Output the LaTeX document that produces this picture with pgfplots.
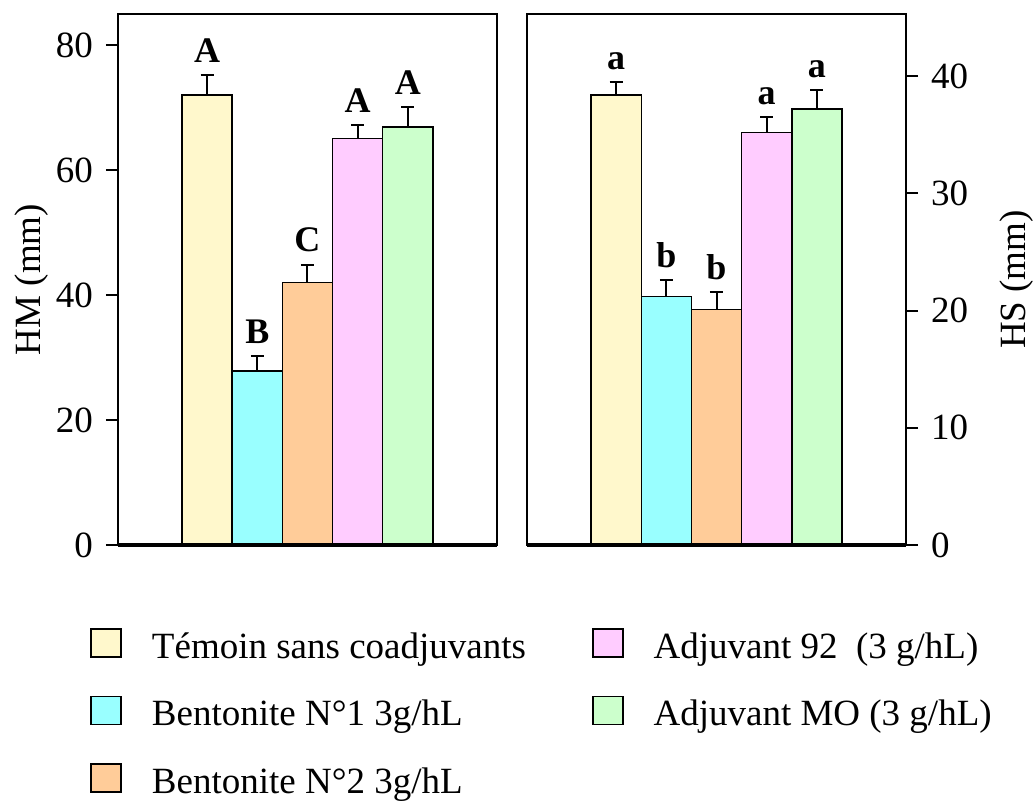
\documentclass[border=0pt]{standalone}
\usepackage{pgfplots}
\pgfplotsset{compat=1.18}
\usepackage{fontspec}
\setmainfont{Liberation Serif}
\definecolor{cTem}{HTML}{FFF8CC}
\definecolor{cBa}{HTML}{99FFFF}
\definecolor{cBb}{HTML}{FFCC99}
\definecolor{cAn}{HTML}{FFCCFF}
\definecolor{cMo}{HTML}{CCFFCC}
\pgfplotsset{
  panel/.style={
    scale only axis, width=189.5pt, height=265.5pt,
    xmin=-0.78, xmax=6.78, ymin=0, xtick=\empty,
    axis line style={line width=1pt},
    tick style={line width=1pt, black},
    major tick length=6pt, tick align=outside,
    /pgf/number format/assume math mode=true,
    ticklabel style={font=\fontsize{18.5}{22}\selectfont},
    label style={font=\fontsize{18.5}{22}\selectfont},
    clip=false,
  },
  barst/.style={ybar, bar width=1, bar shift=0pt, draw=black, line width=0.8pt, fill=#1},
  errst/.style={error bars/.cd, y dir=plus, y explicit,
    error bar style={line width=1pt, black},
    error mark options={rotate=90, mark size=3.3pt, line width=1pt, black}},
  letters/.style={only marks, mark=none, forget plot, point meta=explicit symbolic,
    nodes near coords,
    nodes near coords style={font=\bfseries\fontsize{18}{20}\selectfont, anchor=south, inner sep=0pt, yshift=6pt, black}},
}
\begin{document}
\begin{tikzpicture}
\begin{axis}[panel, ymax=85, ytick={0,20,40,60,80}, ytick pos=left,
  yticklabel style={xshift=-3pt},
  ylabel={HM (mm)}, ylabel style={at={(ticklabel cs:0.5,-3pt)}},
  legend columns=2, legend cell align=left,
  legend style={draw=none, fill=none, at={(rel axis cs:0,0)}, anchor=north west,
    xshift=-14pt, yshift=-41.5pt, inner sep=0pt, row sep=14.5pt,
    nodes={inner sep=0pt, text height=13pt, text depth=4pt, font=\fontsize{18.5}{22}\selectfont},
    /tikz/every odd column/.append style={column sep=15pt},
    /tikz/every even column/.append style={column sep=33pt}},
  legend image code/.code={\draw[#1, draw=black, line width=0.8pt] (0pt,-3.75pt) rectangle (15pt,10.25pt);},
]
\addplot[barst=cTem, errst] coordinates {(1,72.0) +- (0,3.2)};
\addlegendentry{Témoin sans coadjuvants}
\addplot[barst=cAn, errst] coordinates {(4,65.1) +- (0,2.2)};
\addlegendentry{Adjuvant 92\ \ (3 g/hL)}
\addplot[barst=cBa, errst] coordinates {(2,27.9) +- (0,2.4)};
\addlegendentry{Bentonite N°1 3g/hL}
\addplot[barst=cMo, errst] coordinates {(5,66.9) +- (0,3.2)};
\addlegendentry{Adjuvant MO (3 g/hL)}
\addplot[barst=cBb, errst] coordinates {(3,42.0) +- (0,2.9)};
\addlegendentry{Bentonite N°2 3g/hL}
\addplot[letters] coordinates {(1,75.2) [A] (2,30.3) [B] (3,44.9) [C] (4,67.3) [A] (5,70.1) [A]};
\draw[line width=1.6pt] (rel axis cs:0,0) -- (rel axis cs:1,0);
\end{axis}
\begin{axis}[panel, at={(204.5pt,0pt)}, anchor=south west, ymax=45.3, ytick={0,10,20,30,40},
  ytick pos=right, yticklabel pos=right, yticklabel style={xshift=3pt},
  ylabel={HS (mm)}, ylabel style={at={(ticklabel cs:0.5,9pt)}}]
\addplot[barst=cTem, errst] coordinates {(1,38.4) +- (0,1.1)};
\addplot[barst=cBa, errst] coordinates {(2,21.2) +- (0,1.4)};
\addplot[barst=cBb, errst] coordinates {(3,20.1) +- (0,1.5)};
\addplot[barst=cAn, errst] coordinates {(4,35.2) +- (0,1.3)};
\addplot[barst=cMo, errst] coordinates {(5,37.2) +- (0,1.6)};
\addplot[letters] coordinates {(1,39.5) [a] (2,22.6) [b] (3,21.6) [b] (4,36.5) [a] (5,38.8) [a]};
\draw[line width=1.6pt] (rel axis cs:0,0) -- (rel axis cs:1,0);
\end{axis}
\pgfresetboundingbox
\path[use as bounding box] (-59pt,-128pt) rectangle (458pt,272.5pt);
\end{tikzpicture}
\end{document}
